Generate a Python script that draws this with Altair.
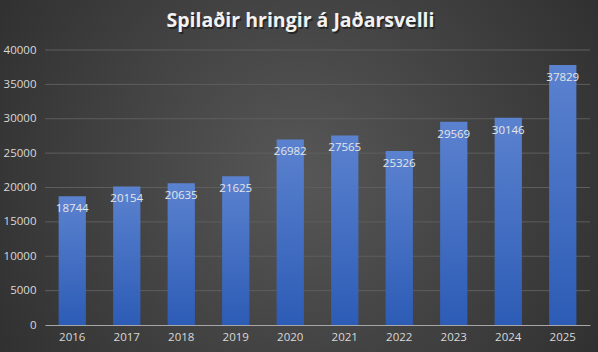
import altair as alt
import pandas as pd

years = ["2016", "2017", "2018", "2019", "2020", "2021", "2022", "2023", "2024", "2025"]
rounds = [18744, 20154, 20635, 21625, 26982, 27565, 25326, 29569, 30146, 37829]
y_ticks = [0, 5000, 10000, 15000, 20000, 25000, 30000, 35000, 40000]
title_text = "Spilaðir hringir á Jaðarsvelli"

df = pd.DataFrame({"year": years, "rounds": rounds})
grid_df = pd.DataFrame({"tick": y_ticks})

W, H = 545, 275
PL, PT, PR, PB = 45, 50, 8, 27

y_scale = alt.Scale(domain=[0, 40000], nice=False)
x_scale = alt.Scale(paddingInner=0.5, paddingOuter=0.25)

x_axis = alt.Axis(title=None, labelAngle=0, labelColor="#d9d9d9", labelFontSize=11.5,
                  labelFont="Open Sans", domainColor="#a6a6a6", domainWidth=1,
                  ticks=False, labelPadding=6, grid=False, zindex=2)
y_axis = alt.Axis(title=None, values=y_ticks, format="d", labelOverlap=False,
                  labelColor="#d9d9d9", labelFontSize=11.5,
                  labelFont="Open Sans", domain=False, ticks=False, grid=False,
                  labelPadding=9, zindex=2)

bg = alt.Chart(alt.Data(values=[{}])).mark_rect(
    fill=alt.RadialGradient(gradient="radial",
                            stops=[alt.GradientStop(offset=0, color="#575757"),
                                   alt.GradientStop(offset=1, color="#252525")],
                            x1=0.5, y1=0.5, r1=0, x2=0.5, y2=0.5, r2=0.75),
    strokeWidth=0
).encode(x=alt.value(-PL), x2=alt.value(W + PR), y=alt.value(-PT), y2=alt.value(H + PB))

title = alt.Chart(alt.Data(values=[{"t": title_text}])).mark_text(
    color="#f2f2f2", fontSize=19.5, font="Open Sans", fontWeight="bold",
    align="center", baseline="middle"
).encode(x=alt.value(W / 2 - 17), y=alt.value(-29), text="t:N")

title_shadow = alt.Chart(alt.Data(values=[{"t": title_text}])).mark_text(
    color="#111111", opacity=0.6, fontSize=19.5, font="Open Sans", fontWeight="bold",
    align="center", baseline="middle"
).encode(x=alt.value(W / 2 - 15.5), y=alt.value(-27.5), text="t:N")

grid = alt.Chart(grid_df).mark_rule(color="#5e5e5e", strokeWidth=1).transform_filter(
    alt.datum.tick > 0
).encode(
    y=alt.Y("tick:Q", scale=y_scale, axis=y_axis),
    x=alt.value(0), x2=alt.value(W)
)

bars = alt.Chart(df).mark_bar(
    fill=alt.LinearGradient(gradient="linear",
                            stops=[alt.GradientStop(offset=0, color="#5b82cf"),
                                   alt.GradientStop(offset=1, color="#2d5cb6")],
                            x1=0, y1=0, x2=0, y2=1)
).encode(
    x=alt.X("year:N", sort=years, scale=x_scale, axis=x_axis),
    y=alt.Y("rounds:Q", scale=y_scale, axis=y_axis)
)

labels = alt.Chart(df).mark_text(
    color="#e6e6e6", fontSize=11.5, font="Open Sans", baseline="middle", dy=13
).encode(
    x=alt.X("year:N", sort=years, scale=x_scale, axis=x_axis),
    y=alt.Y("rounds:Q", scale=y_scale, axis=y_axis),
    text=alt.Text("rounds:Q", format="d")
)

chart = alt.layer(bg, grid, bars, labels, title_shadow, title).properties(
    width=W, height=H,
    autosize=alt.AutoSizeParams(type="none"),
    padding={"left": PL, "top": PT, "right": PR, "bottom": PB},
    background="#333333"
).configure_view(stroke=None)

chart.save("out.html", embed_options={"renderer": "svg", "actions": False})
